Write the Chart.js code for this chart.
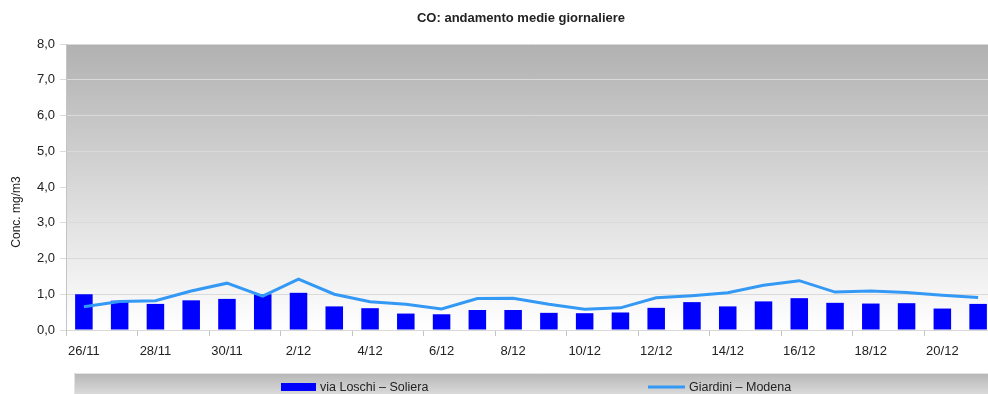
<!DOCTYPE html>
<html>
<head>
<meta charset="utf-8">
<script src="https://cdn.jsdelivr.net/npm/chart.js@4/dist/chart.umd.min.js"></script>
<style>
	html, body { margin: 0; padding: 0; background: #fff; overflow: hidden; }
	#wrap { width: 1000px; height: 394px; }
</style>
</head>
<body>
<div id="wrap"><canvas id="chart" width="1000" height="394"></canvas></div>
<script>

// Data: daily means of CO (mg/m3)
const days = ['26/11','27/11','28/11','29/11','30/11','1/12','2/12','3/12','4/12','5/12','6/12','7/12','8/12','9/12','10/12','11/12','12/12','13/12','14/12','15/12','16/12','17/12','18/12','19/12','20/12','21/12'];
const soliera = [1.00, 0.82, 0.73, 0.83, 0.87, 1.00, 1.04, 0.66, 0.61, 0.46, 0.44, 0.56, 0.56, 0.48, 0.47, 0.49, 0.62, 0.78, 0.66, 0.80, 0.89, 0.76, 0.74, 0.75, 0.60, 0.73];
const modena = [0.65, 0.80, 0.82, 1.09, 1.31, 0.95, 1.42, 1.00, 0.79, 0.72, 0.59, 0.88, 0.89, 0.72, 0.58, 0.62, 0.90, 0.96, 1.04, 1.25, 1.38, 1.06, 1.09, 1.05, 0.97, 0.91];
const seriesNames = ['via Loschi \u2013 Soliera', 'Giardini \u2013 Modena'];
const chartTitle = 'CO: andamento medie giornaliere';
const yTitle = 'Conc. mg/m3';

const fontFamily = "'Liberation Sans', Arial, sans-serif";
const textColour = '#222222';

// Background gradient, titles and legend box
const decorPlugin = {
	id: 'decor',
	beforeDraw (chart) {
		const ctx = chart.ctx;
		const a = chart.chartArea;
		const grad = ctx.createLinearGradient(0, a.top, 0, a.bottom);
		grad.addColorStop(0, '#b1b1b1');
		grad.addColorStop(1, '#ffffff');
		ctx.save();
		ctx.fillStyle = grad;
		ctx.fillRect(a.left, a.top, a.right - a.left, a.bottom - a.top);
		ctx.restore();
	},
	afterDraw (chart) {
		const ctx = chart.ctx;
		ctx.save();

		// Title
		ctx.fillStyle = textColour;
		ctx.font = 'bold 13px ' + fontFamily;
		ctx.textAlign = 'center';
		ctx.textBaseline = 'middle';
		ctx.fillText(chartTitle, 521, 18);

		// Y axis title
		ctx.save();
		ctx.translate(17, 212);
		ctx.rotate(-Math.PI / 2);
		ctx.font = '12px ' + fontFamily;
		ctx.fillText(yTitle, 0, 0);
		ctx.restore();

		// Legend box
		const boxTop = 373;
		const grad = ctx.createLinearGradient(0, boxTop, 0, boxTop + 26);
		grad.addColorStop(0, '#b6b6b6');
		grad.addColorStop(1, '#e2e2e2');
		ctx.fillStyle = grad;
		ctx.fillRect(74, boxTop, chart.width - 74, 30);
		ctx.strokeStyle = '#e4e4e4';
		ctx.lineWidth = 1;
		ctx.beginPath();
		ctx.moveTo(74.5, boxTop + 30);
		ctx.lineTo(74.5, boxTop + 0.5);
		ctx.lineTo(chart.width, boxTop + 0.5);
		ctx.stroke();

		// Legend entries
		const bar = chart.data.datasets[0];
		const line = chart.data.datasets[1];
		ctx.fillStyle = bar.backgroundColor;
		ctx.fillRect(281, 383, 35, 8);
		ctx.strokeStyle = line.borderColor;
		ctx.lineWidth = 3;
		ctx.beginPath();
		ctx.moveTo(648, 387);
		ctx.lineTo(685, 387);
		ctx.stroke();

		ctx.fillStyle = textColour;
		ctx.font = '12.5px ' + fontFamily;
		ctx.textAlign = 'left';
		ctx.textBaseline = 'middle';
		ctx.fillText(bar.label, 320, 388);
		ctx.fillText(line.label, 689, 388);
		ctx.restore();
	}
};

const chart = new Chart(document.getElementById('chart').getContext('2d'), {
	type: 'bar',
	data: {
		labels: days,
		datasets: [
			{
				type: 'bar',
				label: seriesNames[0],
				data: soliera,
				backgroundColor: '#0000ff',
				borderWidth: 0,
				barPercentage: 0.49,
				categoryPercentage: 1,
				order: 2
			},
			{
				type: 'line',
				label: seriesNames[1],
				data: modena,
				borderColor: '#3399f5',
				borderWidth: 3,
				pointRadius: 0,
				tension: 0,
				fill: false,
				order: 1
			}
		]
	},
	options: {
		responsive: false,
		animation: false,
		devicePixelRatio: 1,
		layout: {
			padding: { top: 44, left: 0, right: 4, bottom: 0 }
		},
		scales: {
			x: {
				offset: true,
				grid: {
					offset: true,
					drawOnChartArea: false,
					tickLength: 6,
					color: (c) => (c.index % 2 === 0 ? '#c4c4c4' : 'rgba(0,0,0,0)')
				},
				border: { color: '#d8d8d8' },
				ticks: {
					autoSkip: false,
					maxRotation: 0,
					padding: 8,
					color: textColour,
					font: { size: 13, family: fontFamily },
					callback: (v, i) => (i % 2 === 0 ? days[i] : '')
				},
				afterFit: (s) => { s.height = 64; }
			},
			y: {
				min: 0,
				max: 8,
				grid: { color: '#dadada', tickLength: 6 },
				border: { color: '#c4c4c4' },
				ticks: {
					stepSize: 1,
					padding: 5,
					color: textColour,
					font: { size: 13, family: fontFamily },
					callback: (v) => v.toFixed(1).replace('.', ',')
				},
				afterFit: (s) => { s.width = 66; }
			}
		},
		plugins: {
			legend: { display: false },
			tooltip: { enabled: false }
		}
	},
	plugins: [decorPlugin]
});
</script>
</body>
</html>
